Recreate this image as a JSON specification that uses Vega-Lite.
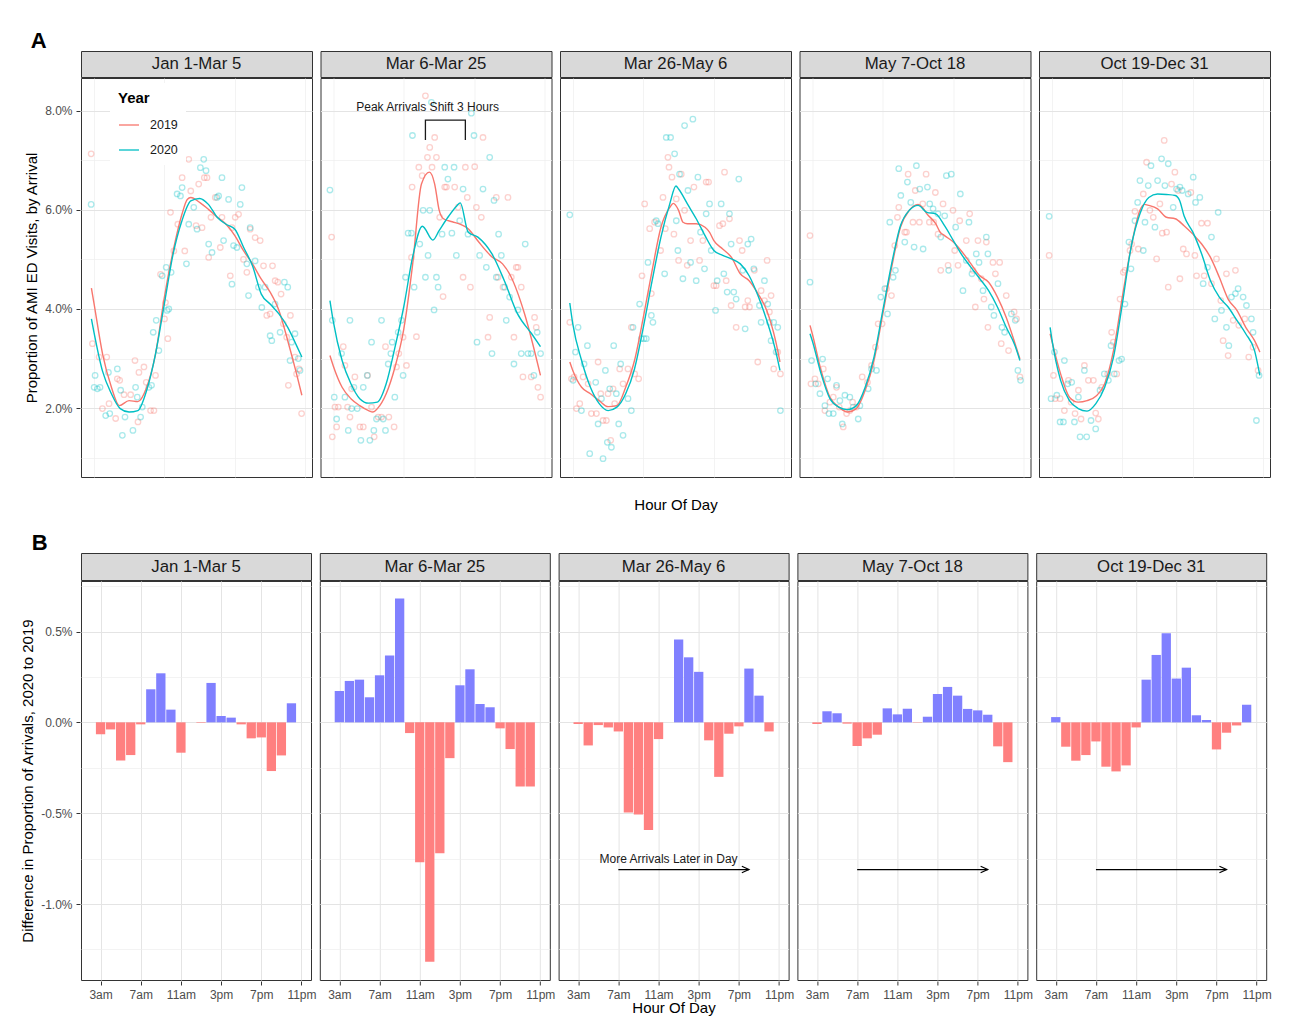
{
"$schema":"https://vega.github.io/schema/vega-lite/v6.json",
"background":"white",
"padding":{"left":20,"top":29,"right":5,"bottom":5},
"config":{
 "font":"Liberation Sans",
 "view":{"stroke":"#333333","strokeWidth":1},
 "axis":{"domain":false,"labelColor":"#4D4D4D","labelFontSize":12,"labelPadding":4,"tickColor":"#333333","tickSize":4,"titleFontSize":15,"titleFontWeight":"normal","titleColor":"#000000","titlePadding":5,"labelOverlap":false,"labelFlush":false},
 "header":{"titleFontSize":15,"titleFontWeight":"normal","titleColor":"#000000"},
 "title":{"fontSize":22,"fontWeight":"bold","color":"#000000","anchor":"start"}
},
"datasets":{
"strips":[{"pn":1,"period":"Jan 1-Mar 5"},{"pn":2,"period":"Mar 6-Mar 25"},{"pn":3,"period":"Mar 26-May 6"},{"pn":4,"period":"May 7-Oct 18"},{"pn":5,"period":"Oct 19-Dec 31"}],
"a":[
{"pn":1,"kind":"pt","year":"2019","hour":0.7,"value":0.0713},{"pn":1,"kind":"pt","year":"2019","hour":0.85,"value":0.033},{"pn":1,"kind":"pt","year":"2019","hour":1.6,"value":0.0303},{"pn":1,"kind":"pt","year":"2019","hour":1.98,"value":0.0199},{"pn":1,"kind":"pt","year":"2019","hour":2.47,"value":0.0303},{"pn":1,"kind":"pt","year":"2019","hour":2.73,"value":0.0209},{"pn":1,"kind":"pt","year":"2019","hour":3.48,"value":0.0179},{"pn":1,"kind":"pt","year":"2019","hour":3.67,"value":0.0259},{"pn":1,"kind":"pt","year":"2019","hour":3.94,"value":0.0256},{"pn":1,"kind":"pt","year":"2019","hour":4.43,"value":0.0227},{"pn":1,"kind":"pt","year":"2019","hour":5.18,"value":0.0227},{"pn":1,"kind":"pt","year":"2019","hour":5.67,"value":0.0296},{"pn":1,"kind":"pt","year":"2019","hour":6.01,"value":0.0172},{"pn":1,"kind":"pt","year":"2019","hour":6.12,"value":0.0272},{"pn":1,"kind":"pt","year":"2019","hour":6.69,"value":0.0283},{"pn":1,"kind":"pt","year":"2019","hour":6.95,"value":0.0252},{"pn":1,"kind":"pt","year":"2019","hour":7.44,"value":0.0195},{"pn":1,"kind":"pt","year":"2019","hour":7.82,"value":0.0195},{"pn":1,"kind":"pt","year":"2019","hour":8.0,"value":0.0266},{"pn":1,"kind":"pt","year":"2019","hour":8.57,"value":0.047},{"pn":1,"kind":"pt","year":"2019","hour":9.02,"value":0.038},{"pn":1,"kind":"pt","year":"2019","hour":9.13,"value":0.0413},{"pn":1,"kind":"pt","year":"2019","hour":9.4,"value":0.034},{"pn":1,"kind":"pt","year":"2019","hour":9.7,"value":0.0595},{"pn":1,"kind":"pt","year":"2019","hour":10.08,"value":0.0517},{"pn":1,"kind":"pt","year":"2019","hour":10.53,"value":0.0571},{"pn":1,"kind":"pt","year":"2019","hour":11.02,"value":0.0665},{"pn":1,"kind":"pt","year":"2019","hour":11.32,"value":0.0517},{"pn":1,"kind":"pt","year":"2019","hour":11.77,"value":0.0702},{"pn":1,"kind":"pt","year":"2019","hour":12.0,"value":0.0638},{"pn":1,"kind":"pt","year":"2019","hour":12.6,"value":0.0568},{"pn":1,"kind":"pt","year":"2019","hour":12.9,"value":0.0652},{"pn":1,"kind":"pt","year":"2019","hour":13.28,"value":0.0564},{"pn":1,"kind":"pt","year":"2019","hour":13.54,"value":0.0665},{"pn":1,"kind":"pt","year":"2019","hour":13.84,"value":0.0665},{"pn":1,"kind":"pt","year":"2019","hour":14.03,"value":0.0504},{"pn":1,"kind":"pt","year":"2019","hour":14.29,"value":0.0585},{"pn":1,"kind":"pt","year":"2019","hour":14.78,"value":0.0625},{"pn":1,"kind":"pt","year":"2019","hour":15.35,"value":0.0524},{"pn":1,"kind":"pt","year":"2019","hour":15.54,"value":0.0585},{"pn":1,"kind":"pt","year":"2019","hour":16.48,"value":0.0467},{"pn":1,"kind":"pt","year":"2019","hour":16.67,"value":0.0564},{"pn":1,"kind":"pt","year":"2019","hour":17.04,"value":0.0585},{"pn":1,"kind":"pt","year":"2019","hour":17.42,"value":0.0591},{"pn":1,"kind":"pt","year":"2019","hour":17.98,"value":0.05},{"pn":1,"kind":"pt","year":"2019","hour":18.36,"value":0.0474},{"pn":1,"kind":"pt","year":"2019","hour":18.74,"value":0.0561},{"pn":1,"kind":"pt","year":"2019","hour":19.3,"value":0.0544},{"pn":1,"kind":"pt","year":"2019","hour":19.87,"value":0.0538},{"pn":1,"kind":"pt","year":"2019","hour":20.25,"value":0.0487},{"pn":1,"kind":"pt","year":"2019","hour":20.62,"value":0.0387},{"pn":1,"kind":"pt","year":"2019","hour":21.0,"value":0.039},{"pn":1,"kind":"pt","year":"2019","hour":21.27,"value":0.0487},{"pn":1,"kind":"pt","year":"2019","hour":21.57,"value":0.0457},{"pn":1,"kind":"pt","year":"2019","hour":21.87,"value":0.0454},{"pn":1,"kind":"pt","year":"2019","hour":22.24,"value":0.043},{"pn":1,"kind":"pt","year":"2019","hour":22.5,"value":0.037},{"pn":1,"kind":"pt","year":"2019","hour":22.88,"value":0.0343},{"pn":1,"kind":"pt","year":"2019","hour":23.07,"value":0.0246},{"pn":1,"kind":"pt","year":"2019","hour":23.3,"value":0.0387},{"pn":1,"kind":"pt","year":"2019","hour":23.82,"value":0.0303},{"pn":1,"kind":"pt","year":"2019","hour":24.0,"value":0.0269},{"pn":1,"kind":"pt","year":"2019","hour":24.27,"value":0.0279},{"pn":1,"kind":"pt","year":"2019","hour":24.57,"value":0.0189},
{"pn":1,"kind":"pt","year":"2020","hour":0.7,"value":0.0611},{"pn":1,"kind":"pt","year":"2020","hour":1.04,"value":0.0242},{"pn":1,"kind":"pt","year":"2020","hour":1.15,"value":0.0266},{"pn":1,"kind":"pt","year":"2020","hour":1.41,"value":0.0239},{"pn":1,"kind":"pt","year":"2020","hour":1.71,"value":0.0242},{"pn":1,"kind":"pt","year":"2020","hour":2.35,"value":0.0185},{"pn":1,"kind":"pt","year":"2020","hour":2.66,"value":0.0272},{"pn":1,"kind":"pt","year":"2020","hour":2.81,"value":0.0189},{"pn":1,"kind":"pt","year":"2020","hour":3.67,"value":0.0279},{"pn":1,"kind":"pt","year":"2020","hour":4.05,"value":0.0236},{"pn":1,"kind":"pt","year":"2020","hour":4.24,"value":0.0145},{"pn":1,"kind":"pt","year":"2020","hour":4.54,"value":0.0182},{"pn":1,"kind":"pt","year":"2020","hour":5.44,"value":0.0155},{"pn":1,"kind":"pt","year":"2020","hour":5.74,"value":0.0242},{"pn":1,"kind":"pt","year":"2020","hour":5.93,"value":0.0222},{"pn":1,"kind":"pt","year":"2020","hour":6.31,"value":0.0182},{"pn":1,"kind":"pt","year":"2020","hour":6.5,"value":0.0202},{"pn":1,"kind":"pt","year":"2020","hour":7.25,"value":0.0242},{"pn":1,"kind":"pt","year":"2020","hour":7.55,"value":0.0246},{"pn":1,"kind":"pt","year":"2020","hour":7.74,"value":0.0353},{"pn":1,"kind":"pt","year":"2020","hour":8.08,"value":0.0377},{"pn":1,"kind":"pt","year":"2020","hour":8.38,"value":0.0316},{"pn":1,"kind":"pt","year":"2020","hour":8.76,"value":0.0467},{"pn":1,"kind":"pt","year":"2020","hour":9.21,"value":0.0484},{"pn":1,"kind":"pt","year":"2020","hour":9.32,"value":0.0397},{"pn":1,"kind":"pt","year":"2020","hour":9.51,"value":0.04},{"pn":1,"kind":"pt","year":"2020","hour":9.77,"value":0.0474},{"pn":1,"kind":"pt","year":"2020","hour":10.45,"value":0.0632},{"pn":1,"kind":"pt","year":"2020","hour":10.83,"value":0.0628},{"pn":1,"kind":"pt","year":"2020","hour":11.02,"value":0.0645},{"pn":1,"kind":"pt","year":"2020","hour":11.51,"value":0.0491},{"pn":1,"kind":"pt","year":"2020","hour":11.77,"value":0.0571},{"pn":1,"kind":"pt","year":"2020","hour":12.34,"value":0.0605},{"pn":1,"kind":"pt","year":"2020","hour":12.71,"value":0.0561},{"pn":1,"kind":"pt","year":"2020","hour":13.09,"value":0.0685},{"pn":1,"kind":"pt","year":"2020","hour":13.47,"value":0.0702},{"pn":1,"kind":"pt","year":"2020","hour":13.73,"value":0.0679},{"pn":1,"kind":"pt","year":"2020","hour":14.03,"value":0.0531},{"pn":1,"kind":"pt","year":"2020","hour":14.41,"value":0.0514},{"pn":1,"kind":"pt","year":"2020","hour":14.97,"value":0.0625},{"pn":1,"kind":"pt","year":"2020","hour":15.16,"value":0.0628},{"pn":1,"kind":"pt","year":"2020","hour":15.54,"value":0.0665},{"pn":1,"kind":"pt","year":"2020","hour":15.72,"value":0.0538},{"pn":1,"kind":"pt","year":"2020","hour":16.29,"value":0.0621},{"pn":1,"kind":"pt","year":"2020","hour":16.67,"value":0.045},{"pn":1,"kind":"pt","year":"2020","hour":16.85,"value":0.0528},{"pn":1,"kind":"pt","year":"2020","hour":17.23,"value":0.0524},{"pn":1,"kind":"pt","year":"2020","hour":17.61,"value":0.0611},{"pn":1,"kind":"pt","year":"2020","hour":17.8,"value":0.0645},{"pn":1,"kind":"pt","year":"2020","hour":18.36,"value":0.0491},{"pn":1,"kind":"pt","year":"2020","hour":18.55,"value":0.0427},{"pn":1,"kind":"pt","year":"2020","hour":18.74,"value":0.0564},{"pn":1,"kind":"pt","year":"2020","hour":19.3,"value":0.0497},{"pn":1,"kind":"pt","year":"2020","hour":19.68,"value":0.0444},{"pn":1,"kind":"pt","year":"2020","hour":20.06,"value":0.0403},{"pn":1,"kind":"pt","year":"2020","hour":20.43,"value":0.0444},{"pn":1,"kind":"pt","year":"2020","hour":21.0,"value":0.0346},{"pn":1,"kind":"pt","year":"2020","hour":21.19,"value":0.0336},{"pn":1,"kind":"pt","year":"2020","hour":21.56,"value":0.041},{"pn":1,"kind":"pt","year":"2020","hour":22.13,"value":0.0353},{"pn":1,"kind":"pt","year":"2020","hour":22.62,"value":0.0454},{"pn":1,"kind":"pt","year":"2020","hour":23.0,"value":0.0444},{"pn":1,"kind":"pt","year":"2020","hour":23.26,"value":0.0296},{"pn":1,"kind":"pt","year":"2020","hour":23.45,"value":0.0333},{"pn":1,"kind":"pt","year":"2020","hour":23.82,"value":0.035},{"pn":1,"kind":"pt","year":"2020","hour":24.2,"value":0.03},{"pn":1,"kind":"pt","year":"2020","hour":24.39,"value":0.0276},
{"pn":2,"kind":"pt","year":"2019","hour":0.81,"value":0.0545},{"pn":2,"kind":"pt","year":"2019","hour":0.89,"value":0.0142},{"pn":2,"kind":"pt","year":"2019","hour":1.19,"value":0.0202},{"pn":2,"kind":"pt","year":"2019","hour":1.38,"value":0.0162},{"pn":2,"kind":"pt","year":"2019","hour":1.57,"value":0.0202},{"pn":2,"kind":"pt","year":"2019","hour":2.13,"value":0.0324},{"pn":2,"kind":"pt","year":"2019","hour":2.32,"value":0.0286},{"pn":2,"kind":"pt","year":"2019","hour":2.62,"value":0.0202},{"pn":2,"kind":"pt","year":"2019","hour":2.89,"value":0.0182},{"pn":2,"kind":"pt","year":"2019","hour":3.08,"value":0.0239},{"pn":2,"kind":"pt","year":"2019","hour":3.45,"value":0.0263},{"pn":2,"kind":"pt","year":"2019","hour":4.02,"value":0.0162},{"pn":2,"kind":"pt","year":"2019","hour":4.4,"value":0.0162},{"pn":2,"kind":"pt","year":"2019","hour":4.89,"value":0.0266},{"pn":2,"kind":"pt","year":"2019","hour":5.34,"value":0.0202},{"pn":2,"kind":"pt","year":"2019","hour":5.64,"value":0.0142},{"pn":2,"kind":"pt","year":"2019","hour":6.09,"value":0.0182},{"pn":2,"kind":"pt","year":"2019","hour":6.47,"value":0.0182},{"pn":2,"kind":"pt","year":"2019","hour":6.92,"value":0.0324},{"pn":2,"kind":"pt","year":"2019","hour":7.3,"value":0.0182},{"pn":2,"kind":"pt","year":"2019","hour":7.9,"value":0.0162},{"pn":2,"kind":"pt","year":"2019","hour":8.17,"value":0.0283},{"pn":2,"kind":"pt","year":"2019","hour":8.43,"value":0.031},{"pn":2,"kind":"pt","year":"2019","hour":8.92,"value":0.0343},{"pn":2,"kind":"pt","year":"2019","hour":9.3,"value":0.0286},{"pn":2,"kind":"pt","year":"2019","hour":9.87,"value":0.0504},{"pn":2,"kind":"pt","year":"2019","hour":9.94,"value":0.0646},{"pn":2,"kind":"pt","year":"2019","hour":10.43,"value":0.0344},{"pn":2,"kind":"pt","year":"2019","hour":10.7,"value":0.0686},{"pn":2,"kind":"pt","year":"2019","hour":11.08,"value":0.0669},{"pn":2,"kind":"pt","year":"2019","hour":11.45,"value":0.083},{"pn":2,"kind":"pt","year":"2019","hour":11.68,"value":0.0706},{"pn":2,"kind":"pt","year":"2019","hour":11.94,"value":0.0726},{"pn":2,"kind":"pt","year":"2019","hour":12.2,"value":0.0686},{"pn":2,"kind":"pt","year":"2019","hour":12.5,"value":0.0746},{"pn":2,"kind":"pt","year":"2019","hour":12.7,"value":0.0706},{"pn":2,"kind":"pt","year":"2019","hour":13.07,"value":0.0585},{"pn":2,"kind":"pt","year":"2019","hour":13.45,"value":0.0425},{"pn":2,"kind":"pt","year":"2019","hour":13.64,"value":0.0646},{"pn":2,"kind":"pt","year":"2019","hour":13.83,"value":0.0646},{"pn":2,"kind":"pt","year":"2019","hour":14.77,"value":0.0646},{"pn":2,"kind":"pt","year":"2019","hour":15.15,"value":0.0605},{"pn":2,"kind":"pt","year":"2019","hour":15.72,"value":0.0464},{"pn":2,"kind":"pt","year":"2019","hour":15.98,"value":0.0686},{"pn":2,"kind":"pt","year":"2019","hour":16.2,"value":0.0625},{"pn":2,"kind":"pt","year":"2019","hour":16.55,"value":0.0444},{"pn":2,"kind":"pt","year":"2019","hour":17.04,"value":0.0687},{"pn":2,"kind":"pt","year":"2019","hour":17.23,"value":0.0605},{"pn":2,"kind":"pt","year":"2019","hour":17.79,"value":0.0585},{"pn":2,"kind":"pt","year":"2019","hour":17.98,"value":0.0746},{"pn":2,"kind":"pt","year":"2019","hour":18.55,"value":0.0343},{"pn":2,"kind":"pt","year":"2019","hour":18.74,"value":0.0383},{"pn":2,"kind":"pt","year":"2019","hour":19.49,"value":0.0625},{"pn":2,"kind":"pt","year":"2019","hour":19.68,"value":0.0464},{"pn":2,"kind":"pt","year":"2019","hour":20.25,"value":0.0444},{"pn":2,"kind":"pt","year":"2019","hour":20.81,"value":0.0625},{"pn":2,"kind":"pt","year":"2019","hour":21.19,"value":0.0464},{"pn":2,"kind":"pt","year":"2019","hour":21.49,"value":0.0343},{"pn":2,"kind":"pt","year":"2019","hour":21.75,"value":0.0484},{"pn":2,"kind":"pt","year":"2019","hour":21.94,"value":0.0484},{"pn":2,"kind":"pt","year":"2019","hour":22.32,"value":0.0444},{"pn":2,"kind":"pt","year":"2019","hour":22.51,"value":0.0263},{"pn":2,"kind":"pt","year":"2019","hour":23.45,"value":0.0263},{"pn":2,"kind":"pt","year":"2019","hour":23.83,"value":0.0383},{"pn":2,"kind":"pt","year":"2019","hour":24.02,"value":0.0363},{"pn":2,"kind":"pt","year":"2019","hour":24.21,"value":0.0242},{"pn":2,"kind":"pt","year":"2019","hour":24.51,"value":0.0222},
{"pn":2,"kind":"pt","year":"2020","hour":0.62,"value":0.064},{"pn":2,"kind":"pt","year":"2020","hour":0.89,"value":0.0377},{"pn":2,"kind":"pt","year":"2020","hour":1.11,"value":0.0222},{"pn":2,"kind":"pt","year":"2020","hour":1.38,"value":0.0178},{"pn":2,"kind":"pt","year":"2020","hour":1.94,"value":0.031},{"pn":2,"kind":"pt","year":"2020","hour":2.32,"value":0.0222},{"pn":2,"kind":"pt","year":"2020","hour":2.7,"value":0.0155},{"pn":2,"kind":"pt","year":"2020","hour":2.89,"value":0.0377},{"pn":2,"kind":"pt","year":"2020","hour":3.08,"value":0.0199},{"pn":2,"kind":"pt","year":"2020","hour":3.34,"value":0.0242},{"pn":2,"kind":"pt","year":"2020","hour":3.72,"value":0.0199},{"pn":2,"kind":"pt","year":"2020","hour":4.13,"value":0.0135},{"pn":2,"kind":"pt","year":"2020","hour":4.4,"value":0.0242},{"pn":2,"kind":"pt","year":"2020","hour":4.85,"value":0.0266},{"pn":2,"kind":"pt","year":"2020","hour":5.15,"value":0.0135},{"pn":2,"kind":"pt","year":"2020","hour":5.34,"value":0.0333},{"pn":2,"kind":"pt","year":"2020","hour":5.6,"value":0.0155},{"pn":2,"kind":"pt","year":"2020","hour":5.9,"value":0.0178},{"pn":2,"kind":"pt","year":"2020","hour":6.47,"value":0.0377},{"pn":2,"kind":"pt","year":"2020","hour":6.66,"value":0.0178},{"pn":2,"kind":"pt","year":"2020","hour":6.92,"value":0.0155},{"pn":2,"kind":"pt","year":"2020","hour":7.23,"value":0.0289},{"pn":2,"kind":"pt","year":"2020","hour":7.53,"value":0.031},{"pn":2,"kind":"pt","year":"2020","hour":7.68,"value":0.0333},{"pn":2,"kind":"pt","year":"2020","hour":7.98,"value":0.0222},{"pn":2,"kind":"pt","year":"2020","hour":8.36,"value":0.0353},{"pn":2,"kind":"pt","year":"2020","hour":8.74,"value":0.0377},{"pn":2,"kind":"pt","year":"2020","hour":8.92,"value":0.0266},{"pn":2,"kind":"pt","year":"2020","hour":9.19,"value":0.0464},{"pn":2,"kind":"pt","year":"2020","hour":9.49,"value":0.0553},{"pn":2,"kind":"pt","year":"2020","hour":9.87,"value":0.0553},{"pn":2,"kind":"pt","year":"2020","hour":9.98,"value":0.075},{"pn":2,"kind":"pt","year":"2020","hour":10.17,"value":0.0444},{"pn":2,"kind":"pt","year":"2020","hour":10.81,"value":0.0531},{"pn":2,"kind":"pt","year":"2020","hour":11.19,"value":0.0599},{"pn":2,"kind":"pt","year":"2020","hour":11.45,"value":0.0464},{"pn":2,"kind":"pt","year":"2020","hour":11.75,"value":0.0508},{"pn":2,"kind":"pt","year":"2020","hour":11.94,"value":0.0599},{"pn":2,"kind":"pt","year":"2020","hour":12.13,"value":0.0817},{"pn":2,"kind":"pt","year":"2020","hour":12.43,"value":0.0398},{"pn":2,"kind":"pt","year":"2020","hour":12.7,"value":0.0464},{"pn":2,"kind":"pt","year":"2020","hour":12.89,"value":0.0444},{"pn":2,"kind":"pt","year":"2020","hour":13.34,"value":0.0551},{"pn":2,"kind":"pt","year":"2020","hour":13.64,"value":0.0686},{"pn":2,"kind":"pt","year":"2020","hour":14.0,"value":0.0662},{"pn":2,"kind":"pt","year":"2020","hour":14.45,"value":0.0553},{"pn":2,"kind":"pt","year":"2020","hour":14.7,"value":0.0686},{"pn":2,"kind":"pt","year":"2020","hour":14.96,"value":0.0508},{"pn":2,"kind":"pt","year":"2020","hour":15.34,"value":0.0578},{"pn":2,"kind":"pt","year":"2020","hour":15.72,"value":0.0642},{"pn":2,"kind":"pt","year":"2020","hour":16.28,"value":0.0551},{"pn":2,"kind":"pt","year":"2020","hour":16.66,"value":0.0795},{"pn":2,"kind":"pt","year":"2020","hour":16.96,"value":0.075},{"pn":2,"kind":"pt","year":"2020","hour":17.3,"value":0.0333},{"pn":2,"kind":"pt","year":"2020","hour":17.6,"value":0.0508},{"pn":2,"kind":"pt","year":"2020","hour":17.98,"value":0.0642},{"pn":2,"kind":"pt","year":"2020","hour":18.36,"value":0.0484},{"pn":2,"kind":"pt","year":"2020","hour":18.74,"value":0.0706},{"pn":2,"kind":"pt","year":"2020","hour":19.0,"value":0.031},{"pn":2,"kind":"pt","year":"2020","hour":19.23,"value":0.0619},{"pn":2,"kind":"pt","year":"2020","hour":19.49,"value":0.0464},{"pn":2,"kind":"pt","year":"2020","hour":19.75,"value":0.0551},{"pn":2,"kind":"pt","year":"2020","hour":20.06,"value":0.0508},{"pn":2,"kind":"pt","year":"2020","hour":20.43,"value":0.0444},{"pn":2,"kind":"pt","year":"2020","hour":20.62,"value":0.0377},{"pn":2,"kind":"pt","year":"2020","hour":21.0,"value":0.0424},{"pn":2,"kind":"pt","year":"2020","hour":21.49,"value":0.0289},{"pn":2,"kind":"pt","year":"2020","hour":21.94,"value":0.0398},{"pn":2,"kind":"pt","year":"2020","hour":22.32,"value":0.031},{"pn":2,"kind":"pt","year":"2020","hour":22.77,"value":0.0531},{"pn":2,"kind":"pt","year":"2020","hour":23.08,"value":0.031},{"pn":2,"kind":"pt","year":"2020","hour":23.45,"value":0.031},{"pn":2,"kind":"pt","year":"2020","hour":23.75,"value":0.0266},{"pn":2,"kind":"pt","year":"2020","hour":24.13,"value":0.0353},{"pn":2,"kind":"pt","year":"2020","hour":24.51,"value":0.031},
{"pn":3,"kind":"pt","year":"2019","hour":0.66,"value":0.0373},{"pn":3,"kind":"pt","year":"2019","hour":0.85,"value":0.0259},{"pn":3,"kind":"pt","year":"2019","hour":1.15,"value":0.0263},{"pn":3,"kind":"pt","year":"2019","hour":1.42,"value":0.0199},{"pn":3,"kind":"pt","year":"2019","hour":1.79,"value":0.0209},{"pn":3,"kind":"pt","year":"2019","hour":2.17,"value":0.0263},{"pn":3,"kind":"pt","year":"2019","hour":2.74,"value":0.0249},{"pn":3,"kind":"pt","year":"2019","hour":3.11,"value":0.0189},{"pn":3,"kind":"pt","year":"2019","hour":3.68,"value":0.0189},{"pn":3,"kind":"pt","year":"2019","hour":3.87,"value":0.0293},{"pn":3,"kind":"pt","year":"2019","hour":4.17,"value":0.0229},{"pn":3,"kind":"pt","year":"2019","hour":4.43,"value":0.0175},{"pn":3,"kind":"pt","year":"2019","hour":4.81,"value":0.0175},{"pn":3,"kind":"pt","year":"2019","hour":5.0,"value":0.0229},{"pn":3,"kind":"pt","year":"2019","hour":5.3,"value":0.0135},{"pn":3,"kind":"pt","year":"2019","hour":5.57,"value":0.0239},{"pn":3,"kind":"pt","year":"2019","hour":5.75,"value":0.0209},{"pn":3,"kind":"pt","year":"2019","hour":6.32,"value":0.0279},{"pn":3,"kind":"pt","year":"2019","hour":6.7,"value":0.0249},{"pn":3,"kind":"pt","year":"2019","hour":7.26,"value":0.0279},{"pn":3,"kind":"pt","year":"2019","hour":7.64,"value":0.0363},{"pn":3,"kind":"pt","year":"2019","hour":8.02,"value":0.0269},{"pn":3,"kind":"pt","year":"2019","hour":8.47,"value":0.0259},{"pn":3,"kind":"pt","year":"2019","hour":8.85,"value":0.0467},{"pn":3,"kind":"pt","year":"2019","hour":9.15,"value":0.0612},{"pn":3,"kind":"pt","year":"2019","hour":9.72,"value":0.0562},{"pn":3,"kind":"pt","year":"2019","hour":9.91,"value":0.0431},{"pn":3,"kind":"pt","year":"2019","hour":10.28,"value":0.0575},{"pn":3,"kind":"pt","year":"2019","hour":10.96,"value":0.0518},{"pn":3,"kind":"pt","year":"2019","hour":11.23,"value":0.0625},{"pn":3,"kind":"pt","year":"2019","hour":11.49,"value":0.0562},{"pn":3,"kind":"pt","year":"2019","hour":11.79,"value":0.0706},{"pn":3,"kind":"pt","year":"2019","hour":11.91,"value":0.0686},{"pn":3,"kind":"pt","year":"2019","hour":12.25,"value":0.0666},{"pn":3,"kind":"pt","year":"2019","hour":12.47,"value":0.0551},{"pn":3,"kind":"pt","year":"2019","hour":12.74,"value":0.0622},{"pn":3,"kind":"pt","year":"2019","hour":13.0,"value":0.0498},{"pn":3,"kind":"pt","year":"2019","hour":13.3,"value":0.0672},{"pn":3,"kind":"pt","year":"2019","hour":13.68,"value":0.0599},{"pn":3,"kind":"pt","year":"2019","hour":13.98,"value":0.0488},{"pn":3,"kind":"pt","year":"2019","hour":14.36,"value":0.0538},{"pn":3,"kind":"pt","year":"2019","hour":14.74,"value":0.0646},{"pn":3,"kind":"pt","year":"2019","hour":15.38,"value":0.0498},{"pn":3,"kind":"pt","year":"2019","hour":15.75,"value":0.0538},{"pn":3,"kind":"pt","year":"2019","hour":16.13,"value":0.0656},{"pn":3,"kind":"pt","year":"2019","hour":16.4,"value":0.0656},{"pn":3,"kind":"pt","year":"2019","hour":17.0,"value":0.0447},{"pn":3,"kind":"pt","year":"2019","hour":17.26,"value":0.0447},{"pn":3,"kind":"pt","year":"2019","hour":17.64,"value":0.0568},{"pn":3,"kind":"pt","year":"2019","hour":18.02,"value":0.0572},{"pn":3,"kind":"pt","year":"2019","hour":18.21,"value":0.0676},{"pn":3,"kind":"pt","year":"2019","hour":18.4,"value":0.0457},{"pn":3,"kind":"pt","year":"2019","hour":18.77,"value":0.0582},{"pn":3,"kind":"pt","year":"2019","hour":18.96,"value":0.0407},{"pn":3,"kind":"pt","year":"2019","hour":19.53,"value":0.0363},{"pn":3,"kind":"pt","year":"2019","hour":19.91,"value":0.0538},{"pn":3,"kind":"pt","year":"2019","hour":20.21,"value":0.0518},{"pn":3,"kind":"pt","year":"2019","hour":20.55,"value":0.0404},{"pn":3,"kind":"pt","year":"2019","hour":20.85,"value":0.0417},{"pn":3,"kind":"pt","year":"2019","hour":21.04,"value":0.0404},{"pn":3,"kind":"pt","year":"2019","hour":21.6,"value":0.0478},{"pn":3,"kind":"pt","year":"2019","hour":21.98,"value":0.0293},{"pn":3,"kind":"pt","year":"2019","hour":22.36,"value":0.0437},{"pn":3,"kind":"pt","year":"2019","hour":22.74,"value":0.0417},{"pn":3,"kind":"pt","year":"2019","hour":23.04,"value":0.0498},{"pn":3,"kind":"pt","year":"2019","hour":23.3,"value":0.0394},{"pn":3,"kind":"pt","year":"2019","hour":23.49,"value":0.0427},{"pn":3,"kind":"pt","year":"2019","hour":23.79,"value":0.0279},{"pn":3,"kind":"pt","year":"2019","hour":24.25,"value":0.0313},{"pn":3,"kind":"pt","year":"2019","hour":24.55,"value":0.0269},
{"pn":3,"kind":"pt","year":"2020","hour":0.66,"value":0.059},{"pn":3,"kind":"pt","year":"2020","hour":1.04,"value":0.0256},{"pn":3,"kind":"pt","year":"2020","hour":1.3,"value":0.0313},{"pn":3,"kind":"pt","year":"2020","hour":1.6,"value":0.0363},{"pn":3,"kind":"pt","year":"2020","hour":1.98,"value":0.0195},{"pn":3,"kind":"pt","year":"2020","hour":2.28,"value":0.0289},{"pn":3,"kind":"pt","year":"2020","hour":2.66,"value":0.0326},{"pn":3,"kind":"pt","year":"2020","hour":2.92,"value":0.0108},{"pn":3,"kind":"pt","year":"2020","hour":3.6,"value":0.0252},{"pn":3,"kind":"pt","year":"2020","hour":3.87,"value":0.0168},{"pn":3,"kind":"pt","year":"2020","hour":4.25,"value":0.0219},{"pn":3,"kind":"pt","year":"2020","hour":4.43,"value":0.0098},{"pn":3,"kind":"pt","year":"2020","hour":4.7,"value":0.0276},{"pn":3,"kind":"pt","year":"2020","hour":4.92,"value":0.0131},{"pn":3,"kind":"pt","year":"2020","hour":5.19,"value":0.0239},{"pn":3,"kind":"pt","year":"2020","hour":5.38,"value":0.0121},{"pn":3,"kind":"pt","year":"2020","hour":5.64,"value":0.0326},{"pn":3,"kind":"pt","year":"2020","hour":5.94,"value":0.0229},{"pn":3,"kind":"pt","year":"2020","hour":6.21,"value":0.0168},{"pn":3,"kind":"pt","year":"2020","hour":6.43,"value":0.0289},{"pn":3,"kind":"pt","year":"2020","hour":6.7,"value":0.0145},{"pn":3,"kind":"pt","year":"2020","hour":7.26,"value":0.0219},{"pn":3,"kind":"pt","year":"2020","hour":7.64,"value":0.0195},{"pn":3,"kind":"pt","year":"2020","hour":7.83,"value":0.0363},{"pn":3,"kind":"pt","year":"2020","hour":8.58,"value":0.041},{"pn":3,"kind":"pt","year":"2020","hour":8.77,"value":0.034},{"pn":3,"kind":"pt","year":"2020","hour":9.08,"value":0.034},{"pn":3,"kind":"pt","year":"2020","hour":9.34,"value":0.034},{"pn":3,"kind":"pt","year":"2020","hour":9.53,"value":0.0494},{"pn":3,"kind":"pt","year":"2020","hour":9.91,"value":0.0387},{"pn":3,"kind":"pt","year":"2020","hour":10.09,"value":0.0373},{"pn":3,"kind":"pt","year":"2020","hour":10.47,"value":0.0578},{"pn":3,"kind":"pt","year":"2020","hour":10.66,"value":0.0572},{"pn":3,"kind":"pt","year":"2020","hour":11.42,"value":0.0471},{"pn":3,"kind":"pt","year":"2020","hour":11.6,"value":0.0746},{"pn":3,"kind":"pt","year":"2020","hour":12.09,"value":0.0746},{"pn":3,"kind":"pt","year":"2020","hour":12.55,"value":0.0713},{"pn":3,"kind":"pt","year":"2020","hour":12.74,"value":0.0578},{"pn":3,"kind":"pt","year":"2020","hour":12.92,"value":0.0518},{"pn":3,"kind":"pt","year":"2020","hour":13.11,"value":0.0672},{"pn":3,"kind":"pt","year":"2020","hour":13.49,"value":0.0461},{"pn":3,"kind":"pt","year":"2020","hour":13.68,"value":0.077},{"pn":3,"kind":"pt","year":"2020","hour":14.06,"value":0.0639},{"pn":3,"kind":"pt","year":"2020","hour":14.36,"value":0.0494},{"pn":3,"kind":"pt","year":"2020","hour":14.62,"value":0.0783},{"pn":3,"kind":"pt","year":"2020","hour":15.0,"value":0.0457},{"pn":3,"kind":"pt","year":"2020","hour":15.19,"value":0.0666},{"pn":3,"kind":"pt","year":"2020","hour":15.49,"value":0.0555},{"pn":3,"kind":"pt","year":"2020","hour":15.94,"value":0.0481},{"pn":3,"kind":"pt","year":"2020","hour":16.13,"value":0.0592},{"pn":3,"kind":"pt","year":"2020","hour":16.51,"value":0.0612},{"pn":3,"kind":"pt","year":"2020","hour":16.7,"value":0.0518},{"pn":3,"kind":"pt","year":"2020","hour":17.19,"value":0.0397},{"pn":3,"kind":"pt","year":"2020","hour":17.38,"value":0.0457},{"pn":3,"kind":"pt","year":"2020","hour":17.83,"value":0.0612},{"pn":3,"kind":"pt","year":"2020","hour":18.13,"value":0.0471},{"pn":3,"kind":"pt","year":"2020","hour":18.51,"value":0.0434},{"pn":3,"kind":"pt","year":"2020","hour":18.77,"value":0.0592},{"pn":3,"kind":"pt","year":"2020","hour":18.96,"value":0.0531},{"pn":3,"kind":"pt","year":"2020","hour":19.26,"value":0.0434},{"pn":3,"kind":"pt","year":"2020","hour":19.53,"value":0.042},{"pn":3,"kind":"pt","year":"2020","hour":19.83,"value":0.0662},{"pn":3,"kind":"pt","year":"2020","hour":20.28,"value":0.0478},{"pn":3,"kind":"pt","year":"2020","hour":20.55,"value":0.036},{"pn":3,"kind":"pt","year":"2020","hour":20.85,"value":0.0531},{"pn":3,"kind":"pt","year":"2020","hour":21.23,"value":0.0541},{"pn":3,"kind":"pt","year":"2020","hour":21.53,"value":0.0481},{"pn":3,"kind":"pt","year":"2020","hour":22.17,"value":0.0407},{"pn":3,"kind":"pt","year":"2020","hour":22.36,"value":0.0373},{"pn":3,"kind":"pt","year":"2020","hour":22.74,"value":0.0457},{"pn":3,"kind":"pt","year":"2020","hour":23.11,"value":0.041},{"pn":3,"kind":"pt","year":"2020","hour":23.3,"value":0.0373},{"pn":3,"kind":"pt","year":"2020","hour":23.49,"value":0.0336},{"pn":3,"kind":"pt","year":"2020","hour":23.79,"value":0.0373},{"pn":3,"kind":"pt","year":"2020","hour":24.06,"value":0.0313},{"pn":3,"kind":"pt","year":"2020","hour":24.25,"value":0.0363},{"pn":3,"kind":"pt","year":"2020","hour":24.55,"value":0.0195},
{"pn":4,"kind":"pt","year":"2019","hour":0.74,"value":0.0548},{"pn":4,"kind":"pt","year":"2019","hour":0.85,"value":0.0249},{"pn":4,"kind":"pt","year":"2019","hour":1.3,"value":0.0259},{"pn":4,"kind":"pt","year":"2019","hour":1.68,"value":0.0249},{"pn":4,"kind":"pt","year":"2019","hour":2.25,"value":0.0279},{"pn":4,"kind":"pt","year":"2019","hour":2.43,"value":0.0195},{"pn":4,"kind":"pt","year":"2019","hour":3.0,"value":0.0212},{"pn":4,"kind":"pt","year":"2019","hour":3.38,"value":0.0222},{"pn":4,"kind":"pt","year":"2019","hour":3.75,"value":0.0242},{"pn":4,"kind":"pt","year":"2019","hour":4.06,"value":0.0202},{"pn":4,"kind":"pt","year":"2019","hour":4.51,"value":0.0162},{"pn":4,"kind":"pt","year":"2019","hour":4.89,"value":0.0189},{"pn":4,"kind":"pt","year":"2019","hour":5.26,"value":0.0195},{"pn":4,"kind":"pt","year":"2019","hour":5.57,"value":0.0212},{"pn":4,"kind":"pt","year":"2019","hour":6.02,"value":0.0202},{"pn":4,"kind":"pt","year":"2019","hour":6.66,"value":0.0263},{"pn":4,"kind":"pt","year":"2019","hour":7.26,"value":0.0252},{"pn":4,"kind":"pt","year":"2019","hour":7.72,"value":0.0286},{"pn":4,"kind":"pt","year":"2019","hour":8.17,"value":0.0323},{"pn":4,"kind":"pt","year":"2019","hour":8.47,"value":0.037},{"pn":4,"kind":"pt","year":"2019","hour":8.92,"value":0.037},{"pn":4,"kind":"pt","year":"2019","hour":9.42,"value":0.0441},{"pn":4,"kind":"pt","year":"2019","hour":9.98,"value":0.0427},{"pn":4,"kind":"pt","year":"2019","hour":10.36,"value":0.0528},{"pn":4,"kind":"pt","year":"2019","hour":10.66,"value":0.0585},{"pn":4,"kind":"pt","year":"2019","hour":10.81,"value":0.0605},{"pn":4,"kind":"pt","year":"2019","hour":11.49,"value":0.0555},{"pn":4,"kind":"pt","year":"2019","hour":11.68,"value":0.0555},{"pn":4,"kind":"pt","year":"2019","hour":11.87,"value":0.0672},{"pn":4,"kind":"pt","year":"2019","hour":12.42,"value":0.0575},{"pn":4,"kind":"pt","year":"2019","hour":12.68,"value":0.0639},{"pn":4,"kind":"pt","year":"2019","hour":13.15,"value":0.0575},{"pn":4,"kind":"pt","year":"2019","hour":13.53,"value":0.0612},{"pn":4,"kind":"pt","year":"2019","hour":13.91,"value":0.0672},{"pn":4,"kind":"pt","year":"2019","hour":14.28,"value":0.0575},{"pn":4,"kind":"pt","year":"2019","hour":14.77,"value":0.0575},{"pn":4,"kind":"pt","year":"2019","hour":14.96,"value":0.0635},{"pn":4,"kind":"pt","year":"2019","hour":15.26,"value":0.0551},{"pn":4,"kind":"pt","year":"2019","hour":15.57,"value":0.0478},{"pn":4,"kind":"pt","year":"2019","hour":15.83,"value":0.0612},{"pn":4,"kind":"pt","year":"2019","hour":16.4,"value":0.0488},{"pn":4,"kind":"pt","year":"2019","hour":16.96,"value":0.0599},{"pn":4,"kind":"pt","year":"2019","hour":17.15,"value":0.0518},{"pn":4,"kind":"pt","year":"2019","hour":17.53,"value":0.0488},{"pn":4,"kind":"pt","year":"2019","hour":17.72,"value":0.0578},{"pn":4,"kind":"pt","year":"2019","hour":18.47,"value":0.0538},{"pn":4,"kind":"pt","year":"2019","hour":18.85,"value":0.0592},{"pn":4,"kind":"pt","year":"2019","hour":19.23,"value":0.0478},{"pn":4,"kind":"pt","year":"2019","hour":19.49,"value":0.0404},{"pn":4,"kind":"pt","year":"2019","hour":19.79,"value":0.0538},{"pn":4,"kind":"pt","year":"2019","hour":20.17,"value":0.0461},{"pn":4,"kind":"pt","year":"2019","hour":20.47,"value":0.042},{"pn":4,"kind":"pt","year":"2019","hour":20.74,"value":0.0535},{"pn":4,"kind":"pt","year":"2019","hour":20.92,"value":0.0363},{"pn":4,"kind":"pt","year":"2019","hour":21.49,"value":0.0494},{"pn":4,"kind":"pt","year":"2019","hour":21.77,"value":0.0471},{"pn":4,"kind":"pt","year":"2019","hour":22.25,"value":0.0494},{"pn":4,"kind":"pt","year":"2019","hour":22.43,"value":0.033},{"pn":4,"kind":"pt","year":"2019","hour":23.0,"value":0.0427},{"pn":4,"kind":"pt","year":"2019","hour":23.26,"value":0.0316},{"pn":4,"kind":"pt","year":"2019","hour":23.9,"value":0.0394},{"pn":4,"kind":"pt","year":"2019","hour":24.17,"value":0.038},{"pn":4,"kind":"pt","year":"2019","hour":24.55,"value":0.0263},
{"pn":4,"kind":"pt","year":"2020","hour":0.74,"value":0.0454},{"pn":4,"kind":"pt","year":"2020","hour":0.92,"value":0.0296},{"pn":4,"kind":"pt","year":"2020","hour":1.38,"value":0.0249},{"pn":4,"kind":"pt","year":"2020","hour":1.87,"value":0.0229},{"pn":4,"kind":"pt","year":"2020","hour":2.17,"value":0.0299},{"pn":4,"kind":"pt","year":"2020","hour":2.43,"value":0.0205},{"pn":4,"kind":"pt","year":"2020","hour":2.74,"value":0.0259},{"pn":4,"kind":"pt","year":"2020","hour":2.89,"value":0.0189},{"pn":4,"kind":"pt","year":"2020","hour":3.38,"value":0.0189},{"pn":4,"kind":"pt","year":"2020","hour":3.75,"value":0.0246},{"pn":4,"kind":"pt","year":"2020","hour":4.13,"value":0.0215},{"pn":4,"kind":"pt","year":"2020","hour":4.4,"value":0.0168},{"pn":4,"kind":"pt","year":"2020","hour":4.7,"value":0.0226},{"pn":4,"kind":"pt","year":"2020","hour":5.26,"value":0.0222},{"pn":4,"kind":"pt","year":"2020","hour":5.64,"value":0.0202},{"pn":4,"kind":"pt","year":"2020","hour":6.21,"value":0.0178},{"pn":4,"kind":"pt","year":"2020","hour":6.4,"value":0.0205},{"pn":4,"kind":"pt","year":"2020","hour":7.34,"value":0.0239},{"pn":4,"kind":"pt","year":"2020","hour":7.72,"value":0.0279},{"pn":4,"kind":"pt","year":"2020","hour":8.28,"value":0.0276},{"pn":4,"kind":"pt","year":"2020","hour":8.77,"value":0.0424},{"pn":4,"kind":"pt","year":"2020","hour":9.23,"value":0.0441},{"pn":4,"kind":"pt","year":"2020","hour":9.53,"value":0.039},{"pn":4,"kind":"pt","year":"2020","hour":9.79,"value":0.0575},{"pn":4,"kind":"pt","year":"2020","hour":10.17,"value":0.0464},{"pn":4,"kind":"pt","year":"2020","hour":10.43,"value":0.0478},{"pn":4,"kind":"pt","year":"2020","hour":10.81,"value":0.0683},{"pn":4,"kind":"pt","year":"2020","hour":11.04,"value":0.0629},{"pn":4,"kind":"pt","year":"2020","hour":11.49,"value":0.0535},{"pn":4,"kind":"pt","year":"2020","hour":11.79,"value":0.0656},{"pn":4,"kind":"pt","year":"2020","hour":12.17,"value":0.0615},{"pn":4,"kind":"pt","year":"2020","hour":12.55,"value":0.0525},{"pn":4,"kind":"pt","year":"2020","hour":12.81,"value":0.0689},{"pn":4,"kind":"pt","year":"2020","hour":13.19,"value":0.0642},{"pn":4,"kind":"pt","year":"2020","hour":13.57,"value":0.0521},{"pn":4,"kind":"pt","year":"2020","hour":14.06,"value":0.0646},{"pn":4,"kind":"pt","year":"2020","hour":14.32,"value":0.0612},{"pn":4,"kind":"pt","year":"2020","hour":14.7,"value":0.0602},{"pn":4,"kind":"pt","year":"2020","hour":15.26,"value":0.0592},{"pn":4,"kind":"pt","year":"2020","hour":15.57,"value":0.0545},{"pn":4,"kind":"pt","year":"2020","hour":16.02,"value":0.0588},{"pn":4,"kind":"pt","year":"2020","hour":16.21,"value":0.0669},{"pn":4,"kind":"pt","year":"2020","hour":16.47,"value":0.0478},{"pn":4,"kind":"pt","year":"2020","hour":16.77,"value":0.0672},{"pn":4,"kind":"pt","year":"2020","hour":17.26,"value":0.0565},{"pn":4,"kind":"pt","year":"2020","hour":17.79,"value":0.0632},{"pn":4,"kind":"pt","year":"2020","hour":18.09,"value":0.0437},{"pn":4,"kind":"pt","year":"2020","hour":18.47,"value":0.0498},{"pn":4,"kind":"pt","year":"2020","hour":18.77,"value":0.0575},{"pn":4,"kind":"pt","year":"2020","hour":19.11,"value":0.0471},{"pn":4,"kind":"pt","year":"2020","hour":19.6,"value":0.0511},{"pn":4,"kind":"pt","year":"2020","hour":19.91,"value":0.0494},{"pn":4,"kind":"pt","year":"2020","hour":20.36,"value":0.0437},{"pn":4,"kind":"pt","year":"2020","hour":20.74,"value":0.0545},{"pn":4,"kind":"pt","year":"2020","hour":20.92,"value":0.0511},{"pn":4,"kind":"pt","year":"2020","hour":21.3,"value":0.0404},{"pn":4,"kind":"pt","year":"2020","hour":21.6,"value":0.0387},{"pn":4,"kind":"pt","year":"2020","hour":22.06,"value":0.0451},{"pn":4,"kind":"pt","year":"2020","hour":22.51,"value":0.0363},{"pn":4,"kind":"pt","year":"2020","hour":22.81,"value":0.0353},{"pn":4,"kind":"pt","year":"2020","hour":23.58,"value":0.039},{"pn":4,"kind":"pt","year":"2020","hour":24.02,"value":0.0377},{"pn":4,"kind":"pt","year":"2020","hour":24.32,"value":0.0276},{"pn":4,"kind":"pt","year":"2020","hour":24.62,"value":0.0256},
{"pn":5,"kind":"pt","year":"2019","hour":0.7,"value":0.0508},{"pn":5,"kind":"pt","year":"2019","hour":1.19,"value":0.0266},{"pn":5,"kind":"pt","year":"2019","hour":1.38,"value":0.0219},{"pn":5,"kind":"pt","year":"2019","hour":1.94,"value":0.0219},{"pn":5,"kind":"pt","year":"2019","hour":2.43,"value":0.0195},{"pn":5,"kind":"pt","year":"2019","hour":2.89,"value":0.0256},{"pn":5,"kind":"pt","year":"2019","hour":3.19,"value":0.0212},{"pn":5,"kind":"pt","year":"2019","hour":3.64,"value":0.0189},{"pn":5,"kind":"pt","year":"2019","hour":4.02,"value":0.0236},{"pn":5,"kind":"pt","year":"2019","hour":4.32,"value":0.0178},{"pn":5,"kind":"pt","year":"2019","hour":4.7,"value":0.0286},{"pn":5,"kind":"pt","year":"2019","hour":5.15,"value":0.0256},{"pn":5,"kind":"pt","year":"2019","hour":5.72,"value":0.0256},{"pn":5,"kind":"pt","year":"2019","hour":5.98,"value":0.019},{"pn":5,"kind":"pt","year":"2019","hour":6.28,"value":0.0178},{"pn":5,"kind":"pt","year":"2019","hour":6.66,"value":0.0242},{"pn":5,"kind":"pt","year":"2019","hour":7.34,"value":0.0269},{"pn":5,"kind":"pt","year":"2019","hour":7.79,"value":0.0353},{"pn":5,"kind":"pt","year":"2019","hour":7.98,"value":0.0333},{"pn":5,"kind":"pt","year":"2019","hour":8.36,"value":0.0269},{"pn":5,"kind":"pt","year":"2019","hour":8.74,"value":0.042},{"pn":5,"kind":"pt","year":"2019","hour":9.11,"value":0.0474},{"pn":5,"kind":"pt","year":"2019","hour":9.3,"value":0.0478},{"pn":5,"kind":"pt","year":"2019","hour":9.87,"value":0.0518},{"pn":5,"kind":"pt","year":"2019","hour":10.06,"value":0.0531},{"pn":5,"kind":"pt","year":"2019","hour":10.43,"value":0.0597},{"pn":5,"kind":"pt","year":"2019","hour":10.81,"value":0.0521},{"pn":5,"kind":"pt","year":"2019","hour":11.38,"value":0.0632},{"pn":5,"kind":"pt","year":"2019","hour":11.75,"value":0.0696},{"pn":5,"kind":"pt","year":"2019","hour":12.13,"value":0.0599},{"pn":5,"kind":"pt","year":"2019","hour":12.51,"value":0.0585},{"pn":5,"kind":"pt","year":"2019","hour":12.89,"value":0.0501},{"pn":5,"kind":"pt","year":"2019","hour":13.26,"value":0.0612},{"pn":5,"kind":"pt","year":"2019","hour":13.53,"value":0.0553},{"pn":5,"kind":"pt","year":"2019","hour":13.75,"value":0.074},{"pn":5,"kind":"pt","year":"2019","hour":14.02,"value":0.0555},{"pn":5,"kind":"pt","year":"2019","hour":14.21,"value":0.0444},{"pn":5,"kind":"pt","year":"2019","hour":14.58,"value":0.0652},{"pn":5,"kind":"pt","year":"2019","hour":14.96,"value":0.0676},{"pn":5,"kind":"pt","year":"2019","hour":15.34,"value":0.0639},{"pn":5,"kind":"pt","year":"2019","hour":15.53,"value":0.0461},{"pn":5,"kind":"pt","year":"2019","hour":15.91,"value":0.0521},{"pn":5,"kind":"pt","year":"2019","hour":16.28,"value":0.0511},{"pn":5,"kind":"pt","year":"2019","hour":16.77,"value":0.0635},{"pn":5,"kind":"pt","year":"2019","hour":17.23,"value":0.0508},{"pn":5,"kind":"pt","year":"2019","hour":17.42,"value":0.0467},{"pn":5,"kind":"pt","year":"2019","hour":17.98,"value":0.0573},{"pn":5,"kind":"pt","year":"2019","hour":18.28,"value":0.0467},{"pn":5,"kind":"pt","year":"2019","hour":18.66,"value":0.0573},{"pn":5,"kind":"pt","year":"2019","hour":19.11,"value":0.0451},{"pn":5,"kind":"pt","year":"2019","hour":19.68,"value":0.0501},{"pn":5,"kind":"pt","year":"2019","hour":20.17,"value":0.0417},{"pn":5,"kind":"pt","year":"2019","hour":20.43,"value":0.0336},{"pn":5,"kind":"pt","year":"2019","hour":20.81,"value":0.0471},{"pn":5,"kind":"pt","year":"2019","hour":21.0,"value":0.0306},{"pn":5,"kind":"pt","year":"2019","hour":21.57,"value":0.0377},{"pn":5,"kind":"pt","year":"2019","hour":21.83,"value":0.0478},{"pn":5,"kind":"pt","year":"2019","hour":22.21,"value":0.0367},{"pn":5,"kind":"pt","year":"2019","hour":22.89,"value":0.038},{"pn":5,"kind":"pt","year":"2019","hour":23.34,"value":0.0303},{"pn":5,"kind":"pt","year":"2019","hour":23.83,"value":0.0323},{"pn":5,"kind":"pt","year":"2019","hour":24.4,"value":0.0276},
{"pn":5,"kind":"pt","year":"2020","hour":0.7,"value":0.0587},{"pn":5,"kind":"pt","year":"2020","hour":0.92,"value":0.0219},{"pn":5,"kind":"pt","year":"2020","hour":1.3,"value":0.0313},{"pn":5,"kind":"pt","year":"2020","hour":1.57,"value":0.0226},{"pn":5,"kind":"pt","year":"2020","hour":1.94,"value":0.0172},{"pn":5,"kind":"pt","year":"2020","hour":2.32,"value":0.0172},{"pn":5,"kind":"pt","year":"2020","hour":2.43,"value":0.0296},{"pn":5,"kind":"pt","year":"2020","hour":2.81,"value":0.0249},{"pn":5,"kind":"pt","year":"2020","hour":3.26,"value":0.0252},{"pn":5,"kind":"pt","year":"2020","hour":3.57,"value":0.0172},{"pn":5,"kind":"pt","year":"2020","hour":4.02,"value":0.0222},{"pn":5,"kind":"pt","year":"2020","hour":4.21,"value":0.0142},{"pn":5,"kind":"pt","year":"2020","hour":4.7,"value":0.0276},{"pn":5,"kind":"pt","year":"2020","hour":4.96,"value":0.0142},{"pn":5,"kind":"pt","year":"2020","hour":5.45,"value":0.0175},{"pn":5,"kind":"pt","year":"2020","hour":5.98,"value":0.0158},{"pn":5,"kind":"pt","year":"2020","hour":6.47,"value":0.0236},{"pn":5,"kind":"pt","year":"2020","hour":6.96,"value":0.0269},{"pn":5,"kind":"pt","year":"2020","hour":7.42,"value":0.0256},{"pn":5,"kind":"pt","year":"2020","hour":7.72,"value":0.0326},{"pn":5,"kind":"pt","year":"2020","hour":8.09,"value":0.0269},{"pn":5,"kind":"pt","year":"2020","hour":8.62,"value":0.0296},{"pn":5,"kind":"pt","year":"2020","hour":8.92,"value":0.0299},{"pn":5,"kind":"pt","year":"2020","hour":9.3,"value":0.041},{"pn":5,"kind":"pt","year":"2020","hour":9.75,"value":0.0535},{"pn":5,"kind":"pt","year":"2020","hour":9.98,"value":0.0481},{"pn":5,"kind":"pt","year":"2020","hour":10.43,"value":0.0578},{"pn":5,"kind":"pt","year":"2020","hour":10.74,"value":0.0615},{"pn":5,"kind":"pt","year":"2020","hour":11.0,"value":0.0659},{"pn":5,"kind":"pt","year":"2020","hour":11.38,"value":0.0518},{"pn":5,"kind":"pt","year":"2020","hour":11.57,"value":0.0575},{"pn":5,"kind":"pt","year":"2020","hour":11.94,"value":0.0649},{"pn":5,"kind":"pt","year":"2020","hour":12.25,"value":0.0689},{"pn":5,"kind":"pt","year":"2020","hour":12.7,"value":0.0565},{"pn":5,"kind":"pt","year":"2020","hour":13.0,"value":0.0659},{"pn":5,"kind":"pt","year":"2020","hour":13.45,"value":0.0703},{"pn":5,"kind":"pt","year":"2020","hour":13.83,"value":0.0649},{"pn":5,"kind":"pt","year":"2020","hour":14.21,"value":0.0693},{"pn":5,"kind":"pt","year":"2020","hour":14.77,"value":0.0605},{"pn":5,"kind":"pt","year":"2020","hour":15.15,"value":0.0642},{"pn":5,"kind":"pt","year":"2020","hour":15.53,"value":0.0646},{"pn":5,"kind":"pt","year":"2020","hour":15.79,"value":0.0639},{"pn":5,"kind":"pt","year":"2020","hour":16.47,"value":0.0632},{"pn":5,"kind":"pt","year":"2020","hour":17.04,"value":0.0666},{"pn":5,"kind":"pt","year":"2020","hour":17.3,"value":0.0615},{"pn":5,"kind":"pt","year":"2020","hour":17.79,"value":0.0625},{"pn":5,"kind":"pt","year":"2020","hour":18.17,"value":0.0451},{"pn":5,"kind":"pt","year":"2020","hour":18.66,"value":0.0484},{"pn":5,"kind":"pt","year":"2020","hour":19.11,"value":0.0545},{"pn":5,"kind":"pt","year":"2020","hour":19.49,"value":0.038},{"pn":5,"kind":"pt","year":"2020","hour":19.87,"value":0.0595},{"pn":5,"kind":"pt","year":"2020","hour":20.25,"value":0.0397},{"pn":5,"kind":"pt","year":"2020","hour":20.81,"value":0.0363},{"pn":5,"kind":"pt","year":"2020","hour":21.08,"value":0.0326},{"pn":5,"kind":"pt","year":"2020","hour":21.38,"value":0.0424},{"pn":5,"kind":"pt","year":"2020","hour":21.83,"value":0.0431},{"pn":5,"kind":"pt","year":"2020","hour":22.13,"value":0.0441},{"pn":5,"kind":"pt","year":"2020","hour":22.7,"value":0.0424},{"pn":5,"kind":"pt","year":"2020","hour":23.08,"value":0.0407},{"pn":5,"kind":"pt","year":"2020","hour":23.64,"value":0.038},{"pn":5,"kind":"pt","year":"2020","hour":23.83,"value":0.0353},{"pn":5,"kind":"pt","year":"2020","hour":24.21,"value":0.0175},{"pn":5,"kind":"pt","year":"2020","hour":24.51,"value":0.0266},
{"pn":1,"kind":"fit","year":"2019","hour":0.73,"value":0.0442},{"pn":1,"kind":"fit","year":"2019","hour":1,"value":0.0414},{"pn":1,"kind":"fit","year":"2019","hour":2,"value":0.0309},{"pn":1,"kind":"fit","year":"2019","hour":3,"value":0.0242},{"pn":1,"kind":"fit","year":"2019","hour":3.9,"value":0.0205},{"pn":1,"kind":"fit","year":"2019","hour":5,"value":0.0215},{"pn":1,"kind":"fit","year":"2019","hour":6,"value":0.0213},{"pn":1,"kind":"fit","year":"2019","hour":7,"value":0.0242},{"pn":1,"kind":"fit","year":"2019","hour":8,"value":0.0309},{"pn":1,"kind":"fit","year":"2019","hour":9,"value":0.0423},{"pn":1,"kind":"fit","year":"2019","hour":10,"value":0.0517},{"pn":1,"kind":"fit","year":"2019","hour":11,"value":0.0591},{"pn":1,"kind":"fit","year":"2019","hour":11.6,"value":0.0621},{"pn":1,"kind":"fit","year":"2019","hour":12,"value":0.0625},{"pn":1,"kind":"fit","year":"2019","hour":13,"value":0.0615},{"pn":1,"kind":"fit","year":"2019","hour":14,"value":0.0601},{"pn":1,"kind":"fit","year":"2019","hour":15,"value":0.0585},{"pn":1,"kind":"fit","year":"2019","hour":16,"value":0.0571},{"pn":1,"kind":"fit","year":"2019","hour":17,"value":0.0548},{"pn":1,"kind":"fit","year":"2019","hour":18,"value":0.0517},{"pn":1,"kind":"fit","year":"2019","hour":19,"value":0.0491},{"pn":1,"kind":"fit","year":"2019","hour":20,"value":0.046},{"pn":1,"kind":"fit","year":"2019","hour":21,"value":0.0434},{"pn":1,"kind":"fit","year":"2019","hour":22,"value":0.0397},{"pn":1,"kind":"fit","year":"2019","hour":23,"value":0.0336},{"pn":1,"kind":"fit","year":"2019","hour":24,"value":0.0269},{"pn":1,"kind":"fit","year":"2019","hour":24.6,"value":0.0226},
{"pn":1,"kind":"fit","year":"2020","hour":0.73,"value":0.038},{"pn":1,"kind":"fit","year":"2020","hour":1,"value":0.0355},{"pn":1,"kind":"fit","year":"2020","hour":2,"value":0.0274},{"pn":1,"kind":"fit","year":"2020","hour":3,"value":0.0229},{"pn":1,"kind":"fit","year":"2020","hour":4,"value":0.0199},{"pn":1,"kind":"fit","year":"2020","hour":5,"value":0.0192},{"pn":1,"kind":"fit","year":"2020","hour":6,"value":0.0195},{"pn":1,"kind":"fit","year":"2020","hour":7,"value":0.0236},{"pn":1,"kind":"fit","year":"2020","hour":8,"value":0.0309},{"pn":1,"kind":"fit","year":"2020","hour":9,"value":0.041},{"pn":1,"kind":"fit","year":"2020","hour":10,"value":0.0511},{"pn":1,"kind":"fit","year":"2020","hour":11,"value":0.0578},{"pn":1,"kind":"fit","year":"2020","hour":12,"value":0.0618},{"pn":1,"kind":"fit","year":"2020","hour":13,"value":0.0623},{"pn":1,"kind":"fit","year":"2020","hour":14,"value":0.0611},{"pn":1,"kind":"fit","year":"2020","hour":15,"value":0.0585},{"pn":1,"kind":"fit","year":"2020","hour":16,"value":0.0571},{"pn":1,"kind":"fit","year":"2020","hour":17,"value":0.0561},{"pn":1,"kind":"fit","year":"2020","hour":18,"value":0.0524},{"pn":1,"kind":"fit","year":"2020","hour":19,"value":0.0487},{"pn":1,"kind":"fit","year":"2020","hour":20,"value":0.043},{"pn":1,"kind":"fit","year":"2020","hour":21,"value":0.041},{"pn":1,"kind":"fit","year":"2020","hour":22,"value":0.039},{"pn":1,"kind":"fit","year":"2020","hour":23,"value":0.0363},{"pn":1,"kind":"fit","year":"2020","hour":24,"value":0.0326},{"pn":1,"kind":"fit","year":"2020","hour":24.6,"value":0.0303},
{"pn":2,"kind":"fit","year":"2019","hour":0.62,"value":0.0306},{"pn":2,"kind":"fit","year":"2019","hour":1,"value":0.0285},{"pn":2,"kind":"fit","year":"2019","hour":2,"value":0.0242},{"pn":2,"kind":"fit","year":"2019","hour":3,"value":0.0219},{"pn":2,"kind":"fit","year":"2019","hour":4,"value":0.0205},{"pn":2,"kind":"fit","year":"2019","hour":5,"value":0.0195},{"pn":2,"kind":"fit","year":"2019","hour":5.5,"value":0.0192},{"pn":2,"kind":"fit","year":"2019","hour":6,"value":0.0199},{"pn":2,"kind":"fit","year":"2019","hour":7,"value":0.0229},{"pn":2,"kind":"fit","year":"2019","hour":8,"value":0.0283},{"pn":2,"kind":"fit","year":"2019","hour":9,"value":0.036},{"pn":2,"kind":"fit","year":"2019","hour":10,"value":0.049},{"pn":2,"kind":"fit","year":"2019","hour":11,"value":0.0652},{"pn":2,"kind":"fit","year":"2019","hour":11.9,"value":0.0676},{"pn":2,"kind":"fit","year":"2019","hour":12.5,"value":0.0652},{"pn":2,"kind":"fit","year":"2019","hour":13,"value":0.06},{"pn":2,"kind":"fit","year":"2019","hour":13.5,"value":0.0582},{"pn":2,"kind":"fit","year":"2019","hour":14.5,"value":0.0576},{"pn":2,"kind":"fit","year":"2019","hour":15.5,"value":0.057},{"pn":2,"kind":"fit","year":"2019","hour":16.3,"value":0.0562},{"pn":2,"kind":"fit","year":"2019","hour":17.5,"value":0.0535},{"pn":2,"kind":"fit","year":"2019","hour":19,"value":0.0505},{"pn":2,"kind":"fit","year":"2019","hour":20.2,"value":0.0491},{"pn":2,"kind":"fit","year":"2019","hour":21.1,"value":0.0467},{"pn":2,"kind":"fit","year":"2019","hour":22.7,"value":0.039},{"pn":2,"kind":"fit","year":"2019","hour":24.5,"value":0.0266},
{"pn":2,"kind":"fit","year":"2020","hour":0.62,"value":0.0417},{"pn":2,"kind":"fit","year":"2020","hour":1,"value":0.0375},{"pn":2,"kind":"fit","year":"2020","hour":2,"value":0.0296},{"pn":2,"kind":"fit","year":"2020","hour":3,"value":0.0249},{"pn":2,"kind":"fit","year":"2020","hour":4,"value":0.0219},{"pn":2,"kind":"fit","year":"2020","hour":5,"value":0.021},{"pn":2,"kind":"fit","year":"2020","hour":6,"value":0.0212},{"pn":2,"kind":"fit","year":"2020","hour":7,"value":0.0249},{"pn":2,"kind":"fit","year":"2020","hour":8,"value":0.0323},{"pn":2,"kind":"fit","year":"2020","hour":9,"value":0.0405},{"pn":2,"kind":"fit","year":"2020","hour":10,"value":0.0505},{"pn":2,"kind":"fit","year":"2020","hour":11.1,"value":0.0567},{"pn":2,"kind":"fit","year":"2020","hour":12.3,"value":0.0539},{"pn":2,"kind":"fit","year":"2020","hour":13,"value":0.0558},{"pn":2,"kind":"fit","year":"2020","hour":14,"value":0.0585},{"pn":2,"kind":"fit","year":"2020","hour":15,"value":0.0608},{"pn":2,"kind":"fit","year":"2020","hour":15.4,"value":0.0614},{"pn":2,"kind":"fit","year":"2020","hour":16.3,"value":0.0555},{"pn":2,"kind":"fit","year":"2020","hour":17.4,"value":0.0545},{"pn":2,"kind":"fit","year":"2020","hour":19,"value":0.0511},{"pn":2,"kind":"fit","year":"2020","hour":20.4,"value":0.0457},{"pn":2,"kind":"fit","year":"2020","hour":21.9,"value":0.039},{"pn":2,"kind":"fit","year":"2020","hour":23.5,"value":0.035},{"pn":2,"kind":"fit","year":"2020","hour":24.5,"value":0.0324},
{"pn":3,"kind":"fit","year":"2019","hour":0.66,"value":0.0293},{"pn":3,"kind":"fit","year":"2019","hour":1,"value":0.0276},{"pn":3,"kind":"fit","year":"2019","hour":2,"value":0.0242},{"pn":3,"kind":"fit","year":"2019","hour":3,"value":0.0229},{"pn":3,"kind":"fit","year":"2019","hour":4,"value":0.0215},{"pn":3,"kind":"fit","year":"2019","hour":5,"value":0.0203},{"pn":3,"kind":"fit","year":"2019","hour":6,"value":0.0205},{"pn":3,"kind":"fit","year":"2019","hour":7,"value":0.0242},{"pn":3,"kind":"fit","year":"2019","hour":8,"value":0.0296},{"pn":3,"kind":"fit","year":"2019","hour":9,"value":0.0383},{"pn":3,"kind":"fit","year":"2019","hour":10,"value":0.0478},{"pn":3,"kind":"fit","year":"2019","hour":11,"value":0.0565},{"pn":3,"kind":"fit","year":"2019","hour":12,"value":0.0605},{"pn":3,"kind":"fit","year":"2019","hour":12.4,"value":0.0613},{"pn":3,"kind":"fit","year":"2019","hour":13,"value":0.0599},{"pn":3,"kind":"fit","year":"2019","hour":13.5,"value":0.0575},{"pn":3,"kind":"fit","year":"2019","hour":14,"value":0.0572},{"pn":3,"kind":"fit","year":"2019","hour":15,"value":0.0572},{"pn":3,"kind":"fit","year":"2019","hour":16,"value":0.0565},{"pn":3,"kind":"fit","year":"2019","hour":16.5,"value":0.0555},{"pn":3,"kind":"fit","year":"2019","hour":17,"value":0.0538},{"pn":3,"kind":"fit","year":"2019","hour":18,"value":0.0521},{"pn":3,"kind":"fit","year":"2019","hour":19,"value":0.0504},{"pn":3,"kind":"fit","year":"2019","hour":20,"value":0.0471},{"pn":3,"kind":"fit","year":"2019","hour":21,"value":0.0457},{"pn":3,"kind":"fit","year":"2019","hour":22,"value":0.0431},{"pn":3,"kind":"fit","year":"2019","hour":23,"value":0.0397},{"pn":3,"kind":"fit","year":"2019","hour":24,"value":0.0336},{"pn":3,"kind":"fit","year":"2019","hour":24.5,"value":0.0293},
{"pn":3,"kind":"fit","year":"2020","hour":0.66,"value":0.0412},{"pn":3,"kind":"fit","year":"2020","hour":1,"value":0.037},{"pn":3,"kind":"fit","year":"2020","hour":2,"value":0.0296},{"pn":3,"kind":"fit","year":"2020","hour":3,"value":0.0242},{"pn":3,"kind":"fit","year":"2020","hour":4,"value":0.0209},{"pn":3,"kind":"fit","year":"2020","hour":5,"value":0.0195},{"pn":3,"kind":"fit","year":"2020","hour":6,"value":0.0202},{"pn":3,"kind":"fit","year":"2020","hour":7,"value":0.0229},{"pn":3,"kind":"fit","year":"2020","hour":8,"value":0.0279},{"pn":3,"kind":"fit","year":"2020","hour":9,"value":0.0363},{"pn":3,"kind":"fit","year":"2020","hour":10,"value":0.0457},{"pn":3,"kind":"fit","year":"2020","hour":11,"value":0.0545},{"pn":3,"kind":"fit","year":"2020","hour":12,"value":0.0612},{"pn":3,"kind":"fit","year":"2020","hour":12.7,"value":0.0648},{"pn":3,"kind":"fit","year":"2020","hour":13,"value":0.0642},{"pn":3,"kind":"fit","year":"2020","hour":14,"value":0.0612},{"pn":3,"kind":"fit","year":"2020","hour":15,"value":0.0582},{"pn":3,"kind":"fit","year":"2020","hour":16,"value":0.0548},{"pn":3,"kind":"fit","year":"2020","hour":17,"value":0.0518},{"pn":3,"kind":"fit","year":"2020","hour":18,"value":0.0508},{"pn":3,"kind":"fit","year":"2020","hour":19,"value":0.0501},{"pn":3,"kind":"fit","year":"2020","hour":20,"value":0.0491},{"pn":3,"kind":"fit","year":"2020","hour":21,"value":0.0467},{"pn":3,"kind":"fit","year":"2020","hour":22,"value":0.0427},{"pn":3,"kind":"fit","year":"2020","hour":23,"value":0.0377},{"pn":3,"kind":"fit","year":"2020","hour":24,"value":0.0316},{"pn":3,"kind":"fit","year":"2020","hour":24.5,"value":0.0276},
{"pn":4,"kind":"fit","year":"2019","hour":0.74,"value":0.0367},{"pn":4,"kind":"fit","year":"2019","hour":1,"value":0.035},{"pn":4,"kind":"fit","year":"2019","hour":2,"value":0.0276},{"pn":4,"kind":"fit","year":"2019","hour":3,"value":0.0222},{"pn":4,"kind":"fit","year":"2019","hour":4,"value":0.0202},{"pn":4,"kind":"fit","year":"2019","hour":5,"value":0.0192},{"pn":4,"kind":"fit","year":"2019","hour":6,"value":0.0199},{"pn":4,"kind":"fit","year":"2019","hour":7,"value":0.0236},{"pn":4,"kind":"fit","year":"2019","hour":8,"value":0.0296},{"pn":4,"kind":"fit","year":"2019","hour":9,"value":0.039},{"pn":4,"kind":"fit","year":"2019","hour":10,"value":0.0484},{"pn":4,"kind":"fit","year":"2019","hour":11,"value":0.0565},{"pn":4,"kind":"fit","year":"2019","hour":12,"value":0.0599},{"pn":4,"kind":"fit","year":"2019","hour":13,"value":0.0611},{"pn":4,"kind":"fit","year":"2019","hour":13.5,"value":0.0605},{"pn":4,"kind":"fit","year":"2019","hour":14,"value":0.0592},{"pn":4,"kind":"fit","year":"2019","hour":15,"value":0.0572},{"pn":4,"kind":"fit","year":"2019","hour":15.5,"value":0.0555},{"pn":4,"kind":"fit","year":"2019","hour":16,"value":0.0548},{"pn":4,"kind":"fit","year":"2019","hour":17,"value":0.0535},{"pn":4,"kind":"fit","year":"2019","hour":18,"value":0.0515},{"pn":4,"kind":"fit","year":"2019","hour":19,"value":0.0491},{"pn":4,"kind":"fit","year":"2019","hour":20,"value":0.0467},{"pn":4,"kind":"fit","year":"2019","hour":21,"value":0.0454},{"pn":4,"kind":"fit","year":"2019","hour":22,"value":0.0424},{"pn":4,"kind":"fit","year":"2019","hour":23,"value":0.0383},{"pn":4,"kind":"fit","year":"2019","hour":24,"value":0.033},{"pn":4,"kind":"fit","year":"2019","hour":24.55,"value":0.0299},
{"pn":4,"kind":"fit","year":"2020","hour":0.74,"value":0.035},{"pn":4,"kind":"fit","year":"2020","hour":1,"value":0.0336},{"pn":4,"kind":"fit","year":"2020","hour":2,"value":0.0269},{"pn":4,"kind":"fit","year":"2020","hour":3,"value":0.0219},{"pn":4,"kind":"fit","year":"2020","hour":4,"value":0.0202},{"pn":4,"kind":"fit","year":"2020","hour":5,"value":0.0197},{"pn":4,"kind":"fit","year":"2020","hour":6,"value":0.0205},{"pn":4,"kind":"fit","year":"2020","hour":7,"value":0.0242},{"pn":4,"kind":"fit","year":"2020","hour":8,"value":0.0303},{"pn":4,"kind":"fit","year":"2020","hour":9,"value":0.0397},{"pn":4,"kind":"fit","year":"2020","hour":10,"value":0.0491},{"pn":4,"kind":"fit","year":"2020","hour":11,"value":0.0568},{"pn":4,"kind":"fit","year":"2020","hour":12,"value":0.0599},{"pn":4,"kind":"fit","year":"2020","hour":13,"value":0.0609},{"pn":4,"kind":"fit","year":"2020","hour":14,"value":0.0595},{"pn":4,"kind":"fit","year":"2020","hour":15,"value":0.0592},{"pn":4,"kind":"fit","year":"2020","hour":16,"value":0.0568},{"pn":4,"kind":"fit","year":"2020","hour":17,"value":0.0538},{"pn":4,"kind":"fit","year":"2020","hour":18,"value":0.0508},{"pn":4,"kind":"fit","year":"2020","hour":19,"value":0.0484},{"pn":4,"kind":"fit","year":"2020","hour":20,"value":0.0461},{"pn":4,"kind":"fit","year":"2020","hour":21,"value":0.0437},{"pn":4,"kind":"fit","year":"2020","hour":22,"value":0.0404},{"pn":4,"kind":"fit","year":"2020","hour":23,"value":0.0363},{"pn":4,"kind":"fit","year":"2020","hour":24,"value":0.0326},{"pn":4,"kind":"fit","year":"2020","hour":24.55,"value":0.0296},
{"pn":5,"kind":"fit","year":"2019","hour":0.81,"value":0.035},{"pn":5,"kind":"fit","year":"2019","hour":1,"value":0.0336},{"pn":5,"kind":"fit","year":"2019","hour":2,"value":0.0269},{"pn":5,"kind":"fit","year":"2019","hour":3,"value":0.0222},{"pn":5,"kind":"fit","year":"2019","hour":4,"value":0.0212},{"pn":5,"kind":"fit","year":"2019","hour":5,"value":0.0215},{"pn":5,"kind":"fit","year":"2019","hour":6,"value":0.0224},{"pn":5,"kind":"fit","year":"2019","hour":7,"value":0.0249},{"pn":5,"kind":"fit","year":"2019","hour":8,"value":0.0316},{"pn":5,"kind":"fit","year":"2019","hour":9,"value":0.0424},{"pn":5,"kind":"fit","year":"2019","hour":10,"value":0.0525},{"pn":5,"kind":"fit","year":"2019","hour":11,"value":0.0599},{"pn":5,"kind":"fit","year":"2019","hour":11.5,"value":0.0611},{"pn":5,"kind":"fit","year":"2019","hour":12,"value":0.0609},{"pn":5,"kind":"fit","year":"2019","hour":13,"value":0.0602},{"pn":5,"kind":"fit","year":"2019","hour":14,"value":0.0585},{"pn":5,"kind":"fit","year":"2019","hour":15,"value":0.0582},{"pn":5,"kind":"fit","year":"2019","hour":16,"value":0.0568},{"pn":5,"kind":"fit","year":"2019","hour":17,"value":0.0551},{"pn":5,"kind":"fit","year":"2019","hour":18,"value":0.0531},{"pn":5,"kind":"fit","year":"2019","hour":19,"value":0.0504},{"pn":5,"kind":"fit","year":"2019","hour":20,"value":0.0464},{"pn":5,"kind":"fit","year":"2019","hour":21,"value":0.042},{"pn":5,"kind":"fit","year":"2019","hour":22,"value":0.0397},{"pn":5,"kind":"fit","year":"2019","hour":23,"value":0.0363},{"pn":5,"kind":"fit","year":"2019","hour":24,"value":0.0336},{"pn":5,"kind":"fit","year":"2019","hour":24.6,"value":0.0313},
{"pn":5,"kind":"fit","year":"2020","hour":0.81,"value":0.0363},{"pn":5,"kind":"fit","year":"2020","hour":1,"value":0.034},{"pn":5,"kind":"fit","year":"2020","hour":2,"value":0.0256},{"pn":5,"kind":"fit","year":"2020","hour":3,"value":0.0215},{"pn":5,"kind":"fit","year":"2020","hour":4,"value":0.0199},{"pn":5,"kind":"fit","year":"2020","hour":5,"value":0.0194},{"pn":5,"kind":"fit","year":"2020","hour":6,"value":0.0209},{"pn":5,"kind":"fit","year":"2020","hour":7,"value":0.0242},{"pn":5,"kind":"fit","year":"2020","hour":8,"value":0.0303},{"pn":5,"kind":"fit","year":"2020","hour":9,"value":0.041},{"pn":5,"kind":"fit","year":"2020","hour":10,"value":0.0525},{"pn":5,"kind":"fit","year":"2020","hour":11,"value":0.0592},{"pn":5,"kind":"fit","year":"2020","hour":12,"value":0.0625},{"pn":5,"kind":"fit","year":"2020","hour":13,"value":0.0632},{"pn":5,"kind":"fit","year":"2020","hour":14,"value":0.0631},{"pn":5,"kind":"fit","year":"2020","hour":15,"value":0.0629},{"pn":5,"kind":"fit","year":"2020","hour":15.5,"value":0.0619},{"pn":5,"kind":"fit","year":"2020","hour":16,"value":0.0588},{"pn":5,"kind":"fit","year":"2020","hour":17,"value":0.0555},{"pn":5,"kind":"fit","year":"2020","hour":18,"value":0.0511},{"pn":5,"kind":"fit","year":"2020","hour":19,"value":0.0457},{"pn":5,"kind":"fit","year":"2020","hour":20,"value":0.0424},{"pn":5,"kind":"fit","year":"2020","hour":21,"value":0.0404},{"pn":5,"kind":"fit","year":"2020","hour":22,"value":0.0377},{"pn":5,"kind":"fit","year":"2020","hour":23,"value":0.035},{"pn":5,"kind":"fit","year":"2020","hour":24,"value":0.0316},{"pn":5,"kind":"fit","year":"2020","hour":24.6,"value":0.0266},
{"pn":2,"kind":"note","hour":11.7,"value":0.0808,"label":"Peak Arrivals Shift 3 Hours"},
{"pn":2,"kind":"bracket","seq":1,"hour":11.45,"value":0.0741},{"pn":2,"kind":"bracket","seq":2,"hour":11.45,"value":0.0781},{"pn":2,"kind":"bracket","seq":3,"hour":15.98,"value":0.0781},{"pn":2,"kind":"bracket","seq":4,"hour":15.98,"value":0.0741}
],
"b":[
{"pn":1,"kind":"bar","hour":3,"diff":-0.00066},{"pn":1,"kind":"bar","hour":4,"diff":-0.00039},{"pn":1,"kind":"bar","hour":5,"diff":-0.0021},{"pn":1,"kind":"bar","hour":6,"diff":-0.0018},{"pn":1,"kind":"bar","hour":7,"diff":-0.00011},{"pn":1,"kind":"bar","hour":8,"diff":0.00182},{"pn":1,"kind":"bar","hour":9,"diff":0.0027},{"pn":1,"kind":"bar","hour":10,"diff":0.0007},{"pn":1,"kind":"bar","hour":11,"diff":-0.00167},{"pn":1,"kind":"bar","hour":12,"diff":0},{"pn":1,"kind":"bar","hour":13,"diff":-0.00003},{"pn":1,"kind":"bar","hour":14,"diff":0.00217},{"pn":1,"kind":"bar","hour":15,"diff":0.00035},{"pn":1,"kind":"bar","hour":16,"diff":0.00026},{"pn":1,"kind":"bar","hour":17,"diff":-0.00011},{"pn":1,"kind":"bar","hour":18,"diff":-0.00088},{"pn":1,"kind":"bar","hour":19,"diff":-0.00083},{"pn":1,"kind":"bar","hour":20,"diff":-0.00268},{"pn":1,"kind":"bar","hour":21,"diff":-0.00182},{"pn":1,"kind":"bar","hour":22,"diff":0.00105},
{"pn":2,"kind":"bar","hour":3,"diff":0.00173},{"pn":2,"kind":"bar","hour":4,"diff":0.00228},{"pn":2,"kind":"bar","hour":5,"diff":0.00235},{"pn":2,"kind":"bar","hour":6,"diff":0.00138},{"pn":2,"kind":"bar","hour":7,"diff":0.00259},{"pn":2,"kind":"bar","hour":8,"diff":0.00368},{"pn":2,"kind":"bar","hour":9,"diff":0.00682},{"pn":2,"kind":"bar","hour":10,"diff":-0.00059},{"pn":2,"kind":"bar","hour":11,"diff":-0.0077},{"pn":2,"kind":"bar","hour":12,"diff":-0.01318},{"pn":2,"kind":"bar","hour":13,"diff":-0.00721},{"pn":2,"kind":"bar","hour":14,"diff":-0.00197},{"pn":2,"kind":"bar","hour":15,"diff":0.00204},{"pn":2,"kind":"bar","hour":16,"diff":0.00292},{"pn":2,"kind":"bar","hour":17,"diff":0.00101},{"pn":2,"kind":"bar","hour":18,"diff":0.00083},{"pn":2,"kind":"bar","hour":19,"diff":-0.00033},{"pn":2,"kind":"bar","hour":20,"diff":-0.00147},{"pn":2,"kind":"bar","hour":21,"diff":-0.00353},{"pn":2,"kind":"bar","hour":22,"diff":-0.00353},
{"pn":3,"kind":"bar","hour":3,"diff":-0.00009},{"pn":3,"kind":"bar","hour":4,"diff":-0.00127},{"pn":3,"kind":"bar","hour":5,"diff":-0.00015},{"pn":3,"kind":"bar","hour":6,"diff":-0.00028},{"pn":3,"kind":"bar","hour":7,"diff":-0.0005},{"pn":3,"kind":"bar","hour":8,"diff":-0.00496},{"pn":3,"kind":"bar","hour":9,"diff":-0.00507},{"pn":3,"kind":"bar","hour":10,"diff":-0.00592},{"pn":3,"kind":"bar","hour":11,"diff":-0.00092},{"pn":3,"kind":"bar","hour":12,"diff":0},{"pn":3,"kind":"bar","hour":13,"diff":0.00456},{"pn":3,"kind":"bar","hour":14,"diff":0.00358},{"pn":3,"kind":"bar","hour":15,"diff":0.00278},{"pn":3,"kind":"bar","hour":16,"diff":-0.00099},{"pn":3,"kind":"bar","hour":17,"diff":-0.003},{"pn":3,"kind":"bar","hour":18,"diff":-0.000625},{"pn":3,"kind":"bar","hour":19,"diff":-0.00022},{"pn":3,"kind":"bar","hour":20,"diff":0.00296},{"pn":3,"kind":"bar","hour":21,"diff":0.00147},{"pn":3,"kind":"bar","hour":22,"diff":-0.0005},
{"pn":4,"kind":"bar","hour":3,"diff":-0.00009},{"pn":4,"kind":"bar","hour":4,"diff":0.00061},{"pn":4,"kind":"bar","hour":5,"diff":0.0005},{"pn":4,"kind":"bar","hour":6,"diff":-0.00007},{"pn":4,"kind":"bar","hour":7,"diff":-0.0013},{"pn":4,"kind":"bar","hour":8,"diff":-0.00088},{"pn":4,"kind":"bar","hour":9,"diff":-0.00068},{"pn":4,"kind":"bar","hour":10,"diff":0.00077},{"pn":4,"kind":"bar","hour":11,"diff":0.00044},{"pn":4,"kind":"bar","hour":12,"diff":0.00075},{"pn":4,"kind":"bar","hour":13,"diff":-0.00002},{"pn":4,"kind":"bar","hour":14,"diff":0.00031},{"pn":4,"kind":"bar","hour":15,"diff":0.00156},{"pn":4,"kind":"bar","hour":16,"diff":0.00195},{"pn":4,"kind":"bar","hour":17,"diff":0.00147},{"pn":4,"kind":"bar","hour":18,"diff":0.00074},{"pn":4,"kind":"bar","hour":19,"diff":0.00066},{"pn":4,"kind":"bar","hour":20,"diff":0.00042},{"pn":4,"kind":"bar","hour":21,"diff":-0.00132},{"pn":4,"kind":"bar","hour":22,"diff":-0.00219},
{"pn":5,"kind":"bar","hour":3,"diff":0.00029},{"pn":5,"kind":"bar","hour":4,"diff":-0.00134},{"pn":5,"kind":"bar","hour":5,"diff":-0.00211},{"pn":5,"kind":"bar","hour":6,"diff":-0.0018},{"pn":5,"kind":"bar","hour":7,"diff":-0.00105},{"pn":5,"kind":"bar","hour":8,"diff":-0.00244},{"pn":5,"kind":"bar","hour":9,"diff":-0.0027},{"pn":5,"kind":"bar","hour":10,"diff":-0.00237},{"pn":5,"kind":"bar","hour":11,"diff":-0.00028},{"pn":5,"kind":"bar","hour":12,"diff":0.00235},{"pn":5,"kind":"bar","hour":13,"diff":0.00371},{"pn":5,"kind":"bar","hour":14,"diff":0.00491},{"pn":5,"kind":"bar","hour":15,"diff":0.00241},{"pn":5,"kind":"bar","hour":16,"diff":0.00301},{"pn":5,"kind":"bar","hour":17,"diff":0.00039},{"pn":5,"kind":"bar","hour":18,"diff":0.00013},{"pn":5,"kind":"bar","hour":19,"diff":-0.00149},{"pn":5,"kind":"bar","hour":20,"diff":-0.00057},{"pn":5,"kind":"bar","hour":21,"diff":-0.00017},{"pn":5,"kind":"bar","hour":22,"diff":0.00097},
{"pn":3,"kind":"arrow","hour":7,"hour2":20,"diff":-0.0081},{"pn":4,"kind":"arrow","hour":7,"hour2":20,"diff":-0.0081},{"pn":5,"kind":"arrow","hour":7,"hour2":20,"diff":-0.0081},
{"pn":3,"kind":"note","hour":12,"diff":-0.00752,"label":"More Arrivals Later in Day"}
]
},
"spacing":18,
"vconcat":[
{
 "title":{"text":"A","dx":6,"offset":-2},
 "spacing":-2,
 "vconcat":[
  {
   "data":{"name":"strips"},
   "facet":{"column":{"field":"pn","type":"ordinal","header":null}},
   "spacing":{"column":6.5},
   "spec":{
    "width":231,"height":26,
    "view":{"fill":"#D9D9D9","stroke":"#333333"},
    "mark":{"type":"text","fontSize":16.8,"color":"#1A1A1A"},
    "encoding":{
     "text":{"field":"period","type":"nominal"},
     "y":{"datum":0.5,"type":"quantitative","scale":{"domain":[0,1]},"axis":{"values":[0.5],"labelExpr":"'8.0%'","labelColor":"transparent","tickColor":"transparent","grid":false,"title":"P","titleColor":"transparent"}}
    }
   }
  },
  {
   "data":{"name":"a"},
   "facet":{"column":{"field":"pn","type":"ordinal","title":"Hour Of Day","header":{"labels":false,"titleOrient":"bottom","titlePadding":-9}}},
   "spacing":{"column":6.5},
   "spec":{
    "width":231,"height":399,
    "layer":[
     {"transform":[{"filter":"datum.kind=='pt'"}],
      "mark":{"type":"point","filled":false,"size":30,"strokeWidth":1.3,"opacity":0.33},
      "encoding":{
       "x":{"field":"hour","type":"quantitative","scale":{"domain":[-0.45,25.75],"nice":false,"zero":false},
        "axis":{"values":[1,3,5,7,9,11,13,15,17,19,21,23,25],"title":null,
         "labelExpr":"(datum.value+1)%4==0 ? (datum.value<12 ? datum.value+'am' : (datum.value-12)+'pm') : ''",
         "tickColor":{"condition":{"test":"(datum.value+1)%4==0","value":"#333333"},"value":"transparent"},
         "gridColor":{"condition":{"test":"(datum.value+1)%4==0","value":"#E4E4E4"},"value":"#EEEEEE"},
         "gridWidth":{"condition":{"test":"(datum.value+1)%4==0","value":1},"value":0.7}}},
       "y":{"field":"value","type":"quantitative","scale":{"domain":[0.0061,0.0866],"nice":false,"zero":false},
        "axis":{"values":[0.01,0.02,0.03,0.04,0.05,0.06,0.07,0.08],"title":"Proportion of AMI ED Visits, by Arrival",
         "labelExpr":"round(datum.value*100)%2==0 ? format(datum.value,'.1%') : ''",
         "tickColor":{"condition":{"test":"round(datum.value*100)%2==0","value":"#333333"},"value":"transparent"},
         "gridColor":{"condition":{"test":"round(datum.value*100)%2==0","value":"#E4E4E4"},"value":"#EEEEEE"},
         "gridWidth":{"condition":{"test":"round(datum.value*100)%2==0","value":1},"value":0.7}}},
       "color":{"field":"year","type":"nominal","scale":{"domain":["2019","2020"],"range":["#F8766D","#00BFC4"]},
        "legend":{"title":"Year","orient":"none","legendX":29,"legendY":32,"symbolType":"stroke","symbolStrokeWidth":1.3,"symbolSize":400,"symbolOpacity":1,"fillColor":"white","padding":8,"titleFontSize":15,"titleFontWeight":"bold","titleColor":"#000000","titlePadding":8,"labelFontSize":12.5,"labelColor":"#1A1A1A","rowPadding":7,"labelOffset":10}}
      }},
     {"transform":[{"filter":"datum.kind=='fit'"}],
      "mark":{"type":"line","interpolate":"monotone","strokeWidth":1.4},
      "encoding":{
       "x":{"field":"hour","type":"quantitative"},
       "y":{"field":"value","type":"quantitative"},
       "color":{"field":"year","type":"nominal"}
      }},
     {"transform":[{"filter":"datum.kind=='bracket'"}],
      "mark":{"type":"line","color":"#1A1A1A","strokeWidth":1.3},
      "encoding":{"x":{"field":"hour","type":"quantitative"},"y":{"field":"value","type":"quantitative"},"order":{"field":"seq","type":"quantitative"}}},
     {"transform":[{"filter":"datum.kind=='note'"}],
      "mark":{"type":"text","fontSize":12,"color":"#1A1A1A"},
      "encoding":{"x":{"field":"hour","type":"quantitative"},"y":{"field":"value","type":"quantitative"},"text":{"field":"label","type":"nominal"}}}
    ]
   }
  }
 ]
},
{
 "title":{"text":"B","dx":11,"offset":-2},
 "spacing":-2,
 "vconcat":[
  {
   "data":{"name":"strips"},
   "facet":{"column":{"field":"pn","type":"ordinal","header":null}},
   "spacing":{"column":6.8},
   "spec":{
    "width":230,"height":27,
    "view":{"fill":"#D9D9D9","stroke":"#333333"},
    "mark":{"type":"text","fontSize":16.8,"color":"#1A1A1A"},
    "encoding":{
     "text":{"field":"period","type":"nominal"},
     "y":{"datum":0.5,"type":"quantitative","scale":{"domain":[0,1]},"axis":{"values":[0.5],"labelExpr":"'-1.0%'","labelColor":"transparent","tickColor":"transparent","grid":false,"title":"D","titleColor":"transparent"}}
    }
   }
  },
  {
   "data":{"name":"b"},
   "facet":{"column":{"field":"pn","type":"ordinal","title":"Hour Of Day","header":{"labels":false,"titleOrient":"bottom","titlePadding":-9}}},
   "spacing":{"column":6.8},
   "spec":{
    "width":230,"height":399,
    "layer":[
     {"transform":[{"filter":"datum.kind=='bar'"}],
      "mark":{"type":"bar","size":9.3},
      "encoding":{
       "x":{"field":"hour","type":"quantitative","scale":{"domain":[1.55,23.45],"nice":false,"zero":false},
        "axis":{"values":[3,5,7,9,11,13,15,17,19,21,23],"title":null,
         "labelExpr":"(datum.value+1)%4==0 ? (datum.value<12 ? datum.value+'am' : (datum.value-12)+'pm') : ''",
         "tickColor":{"condition":{"test":"(datum.value+1)%4==0","value":"#333333"},"value":"transparent"},
         "gridColor":{"condition":{"test":"(datum.value+1)%4==0","value":"#E4E4E4"},"value":"#EEEEEE"},
         "gridWidth":{"condition":{"test":"(datum.value+1)%4==0","value":1},"value":0.7}}},
       "y":{"field":"diff","type":"quantitative","scale":{"domain":[-0.01418,0.00778],"nice":false},
        "axis":{"values":[-0.0125,-0.01,-0.0075,-0.005,-0.0025,0,0.0025,0.005,0.0075],"title":"Difference in Proportion of Arrivals, 2020 to 2019",
         "labelExpr":"round(datum.value*10000)%50==0 ? (datum.value<0 ? '-' : '') + format(abs(datum.value),'.1%') : ''",
         "tickColor":{"condition":{"test":"round(datum.value*10000)%50==0","value":"#333333"},"value":"transparent"},
         "gridColor":{"condition":{"test":"round(datum.value*10000)%50==0","value":"#E4E4E4"},"value":"#EEEEEE"},
         "gridWidth":{"condition":{"test":"round(datum.value*10000)%50==0","value":1},"value":0.7}}},
       "color":{"condition":{"test":"datum.diff>0","value":"#8080FF"},"value":"#FF8080"}
      }},
     {"transform":[{"filter":"datum.kind=='arrow'"}],
      "mark":{"type":"rule","color":"#000000","strokeWidth":1.2},
      "encoding":{"x":{"field":"hour","type":"quantitative"},"x2":{"field":"hour2"},"y":{"field":"diff","type":"quantitative"}}},
     {"transform":[{"filter":"datum.kind=='arrow'"}],
      "mark":{"type":"point","shape":"M-1.2,-0.55L0,0L-1.2,0.55","filled":false,"size":140,"strokeWidth":1.2,"color":"#000000","opacity":1},
      "encoding":{"x":{"field":"hour2","type":"quantitative"},"y":{"field":"diff","type":"quantitative"}}},
     {"transform":[{"filter":"datum.kind=='note'"}],
      "mark":{"type":"text","fontSize":12,"color":"#1A1A1A"},
      "encoding":{"x":{"field":"hour","type":"quantitative"},"y":{"field":"diff","type":"quantitative"},"text":{"field":"label","type":"nominal"}}}
    ]
   }
  }
 ]
}
]
}
